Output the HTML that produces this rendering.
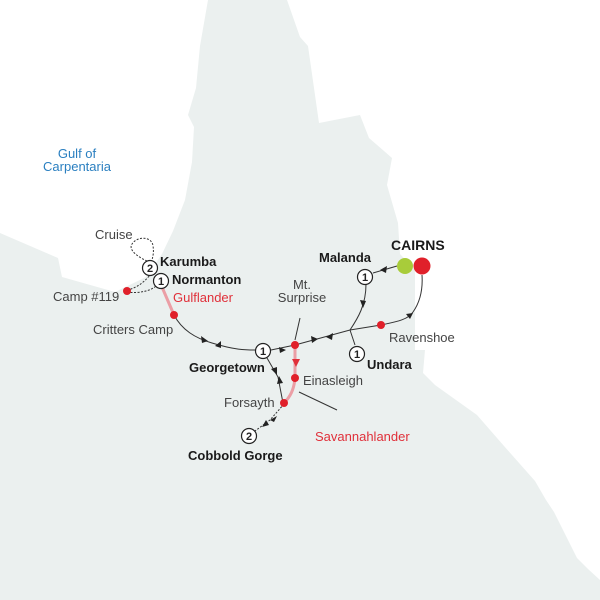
<!DOCTYPE html>
<html><head><meta charset="utf-8"><style>
html,body{margin:0;padding:0;background:#fff}
svg{display:block}
text{font-family:"Liberation Sans",sans-serif;font-size:13px;fill:#444}
.b{font-weight:bold;fill:#1a1a1a}
.r{fill:#e0303a}
</style></head><body>
<svg width="600" height="600" viewBox="0 0 600 600" xmlns="http://www.w3.org/2000/svg">
<polygon fill="#ebf0ef" points="208,0 287,0 300,37 308,46 319,123 360,115 369,138 392,158 387,185 398,223 400,254 415,270 415,350 425,350 423,373 435,385 477,415 504,446 535,481 546,500 554,512 577,558 588,569 600,580 600,600 0,600 0,233 58,258 62,277 115,292 146,277 162,254 173,231 185,200 192,162 194,127 188,115 196,88 200,46"/>
<text x="77" y="158" text-anchor="middle" style="fill:#2a7fc0">Gulf of</text>
<text x="77" y="171" text-anchor="middle" style="fill:#2a7fc0">Carpentaria</text>
<g fill="none" stroke="#333" stroke-width="1" stroke-dasharray="2,1.5">
<path d="M147,261 C138,257 128,250 132,244 C137,236 152,236 153,246 C154,252 153,256 152,260"/>
<path d="M127,290 C138,288 146,280 150,275"/>
<path d="M127,292 C140,294 152,290 156,286"/>
<path d="M284,404 L270,420 L255,431"/>
</g>
<g fill="none" stroke="#eb9ea5" stroke-width="3">
<path d="M162,287 L174,315"/>
<path d="M295,345 L295,378 C294,390 290,397 284,403"/>
</g>
<g fill="none" stroke="#333" stroke-width="1">
<path d="M174,315 C182,330 195,338 212,343 C235,350 245,350 255,350"/>
<path d="M271,350 L295,345 L350,330 L381,325 C395,322 408,320 413,312 C420,302 423,290 422,275"/>
<path d="M397,266 L373,273"/>
<path d="M366,284 C366,305 358,318 350,330 L355,345"/>
<path d="M267,358 L278,377 L283,403"/>
<path d="M300,318 L295,340"/>
<path d="M337,410 L299,392"/>
</g>
<g fill="#222">
<path d="M208,341 l-7,-5 l1,7z"/>
<path d="M215,346 l6,-5 l0,7z"/>
<path d="M286,350 l-7,-3 l1,6z"/>
<path d="M318,339 l-7,-3 l1,7z"/>
<path d="M326,337 l7,-4 l-1,7z"/>
<path d="M413,313 l-7,1 l4,5z"/>
<path d="M380,270 l7,-4 l-1,7z"/>
<path d="M363,308 l-3,-8 l6,1z"/>
<path d="M277,375 l-6,-6 l6,-2z"/>
<path d="M279,376 l-2,8 l6,-1z"/>
<path d="M270,420 l7,-4 l-3,6z"/>
<path d="M262,427 l4,-7 l3,5z"/>
</g>
<path d="M296,367 l-4,-8 l8,0z" fill="#e0303a"/>
<g fill="#e0202a">
<circle cx="127" cy="291" r="4"/><circle cx="174" cy="315" r="4"/>
<circle cx="295" cy="345" r="4"/><circle cx="295" cy="378" r="4"/>
<circle cx="284" cy="403" r="4"/><circle cx="381" cy="325" r="4"/>
<circle cx="422" cy="266" r="8.5"/>
</g>
<circle cx="405" cy="266" r="8" fill="#a8cc3a"/>
<g fill="#fff" stroke="#222" stroke-width="1.2">
<circle cx="150" cy="268" r="7.5"/><circle cx="161" cy="281" r="7.5"/>
<circle cx="263" cy="351" r="7.5"/><circle cx="365" cy="277" r="7.5"/>
<circle cx="357" cy="354" r="7.5"/><circle cx="249" cy="436" r="7.5"/>
</g>
<g text-anchor="middle">
<text x="150" y="272" style="font-size:11px;fill:#222;font-weight:bold">2</text>
<text x="161" y="285" style="font-size:11px;fill:#222;font-weight:bold">1</text>
<text x="263" y="355" style="font-size:11px;fill:#222;font-weight:bold">1</text>
<text x="365" y="281" style="font-size:11px;fill:#222;font-weight:bold">1</text>
<text x="357" y="358" style="font-size:11px;fill:#222;font-weight:bold">1</text>
<text x="249" y="440" style="font-size:11px;fill:#222;font-weight:bold">2</text>
</g>
<text x="95" y="239">Cruise</text>
<text x="160" y="266" class="b">Karumba</text>
<text x="172" y="284" class="b">Normanton</text>
<text x="173" y="302" class="r">Gulflander</text>
<text x="53" y="301">Camp #119</text>
<text x="93" y="334">Critters Camp</text>
<text x="302" y="289" text-anchor="middle">Mt.</text>
<text x="302" y="302" text-anchor="middle">Surprise</text>
<text x="319" y="262" class="b">Malanda</text>
<text x="391" y="250" class="b" style="font-size:14px">CAIRNS</text>
<text x="389" y="342">Ravenshoe</text>
<text x="367" y="369" class="b">Undara</text>
<text x="189" y="372" class="b">Georgetown</text>
<text x="303" y="385">Einasleigh</text>
<text x="224" y="407">Forsayth</text>
<text x="315" y="441" class="r">Savannahlander</text>
<text x="188" y="460" class="b">Cobbold Gorge</text>
</svg>
</body></html>
